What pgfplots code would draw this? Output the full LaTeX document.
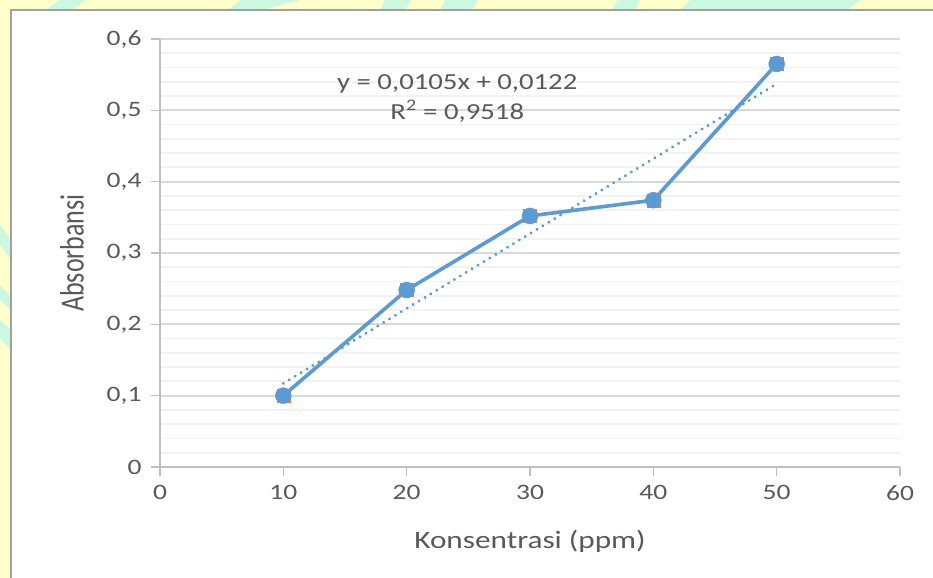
\documentclass[border=0pt]{standalone}
\usepackage{fontspec}
\setmainfont{Carlito}[FakeStretch=1.25]
\newfontfamily\labfont{Carlito}
\usepackage{pgfplots}
\pgfplotsset{compat=1.18}
\definecolor{txt}{HTML}{595959}
\definecolor{axl}{HTML}{BFBFBF}
\definecolor{majg}{HTML}{D9D9D9}
\definecolor{ming}{HTML}{F2F2F2}
\definecolor{ser}{HTML}{5B9BD5}
\definecolor{ora}{HTML}{ED7D31}
\definecolor{bgy}{HTML}{FFFFCC}
\definecolor{bgc}{HTML}{CCF7E0}
\definecolor{brd}{HTML}{A0A0A0}
\begin{document}
\begin{tikzpicture}
\useasboundingbox (0,0) rectangle (933bp,578bp);
\fill[bgy] (0,0) rectangle (933bp,578bp);
% watermark patches
\begin{scope}
\clip (0,0) rectangle (933bp,578bp);
\fill[bgc] (45bp,568bp) -- (60bp,578bp) -- (86bp,578bp) -- (72bp,568bp) -- cycle;
\fill[bgc] (229bp,568bp) -- (240bp,578bp) -- (300bp,578bp) -- (262bp,568bp) -- cycle;
\fill[bgc] (380bp,568bp) -- (385bp,578bp) -- (411bp,578bp) -- (405bp,568bp) -- cycle;
\fill[bgc] (440bp,568bp) -- (445bp,578bp) -- (478bp,578bp) -- (472bp,568bp) -- cycle;
\fill[bgc] (612bp,568bp) -- (618bp,578bp) -- (640bp,578bp) -- (636bp,568bp) -- cycle;
\fill[bgc] (680bp,568bp) -- (690bp,578bp) -- (860bp,578bp) -- (848bp,568bp) -- cycle;
\fill[bgc] (0,353bp) -- (11bp,338bp) -- (11bp,318bp) -- (0,333bp) -- cycle;
\fill[bgc] (0,293bp) -- (11bp,281bp) -- (11bp,268bp) -- (0,278bp) -- cycle;
\fill[bgc] (0,258bp) -- (11bp,248bp) -- (11bp,228bp) -- (0,240bp) -- cycle;
\end{scope}
\fill[white] (11bp,0) rectangle (933bp,568bp);
\draw[brd, line width=1.5bp] (11bp,0) -- (11bp,568bp) -- (933bp,568bp);
\begin{axis}[
  at={(160bp,111bp)}, anchor=south west,
  scale only axis, width=740bp, height=428bp,
  xmin=0, xmax=60, ymin=0, ymax=0.6,
  xtick={0,10,...,60},
  ytick={0,0.1,...,0.6},
  minor y tick num=4,
  ymajorgrids, yminorgrids,
  major grid style={majg, line width=1.8bp},
  minor grid style={ming, line width=1.8bp},
  axis lines=left,
  axis line style={-, axl, line width=1.8bp},
  tick style={axl, line width=1.5bp},
  tick align=outside,
  major tick length=9bp,
  minor tick length=0pt,
  /pgf/number format/assume math mode=true,
  /pgf/number format/use comma,
  /pgf/number format/fixed,
  tick label style={font=\fontsize{22bp}{26bp}\selectfont, text=txt},
  yticklabel style={xshift=-6bp},
  xticklabel style={yshift=-6bp},
  xlabel={Konsentrasi (ppm)},
  ylabel={Absorbansi},
  xlabel style={font=\fontsize{25bp}{30bp}\selectfont, text=txt, at={(axis description cs:0.5,-0.1729)}, anchor=center},
  ylabel style={font=\labfont\fontsize{26bp}{30bp}\selectfont, text=txt, at={(axis description cs:-0.119,0.5)}, anchor=center, yscale=1.3},
  clip=false,
]
\addplot[ser, line width=3.2bp, dash pattern=on 0.1bp off 6.8bp, line cap=round] coordinates {(10,0.1172) (50,0.5372)};
\addplot[ser, line width=3.6bp, mark=none] coordinates {(10,0.100) (20,0.248) (30,0.352) (40,0.374) (50,0.565)};
\addplot[only marks, mark=square*, mark size=6.5bp, ora] coordinates {(10,0.100) (20,0.248) (30,0.352) (40,0.374) (50,0.565)};
\addplot[only marks, mark=*, mark size=8bp, ser, mark options={draw=ser, fill=ser}] coordinates {(10,0.100) (20,0.248) (30,0.352) (40,0.374) (50,0.565)};
\node[text=txt, align=center, font=\fontsize{23bp}{30bp}\selectfont] at (axis cs:24.1,0.517) {y = 0,0105x + 0,0122\\R\textsuperscript{2} = 0,9518};
\end{axis}
\end{tikzpicture}
\end{document}
